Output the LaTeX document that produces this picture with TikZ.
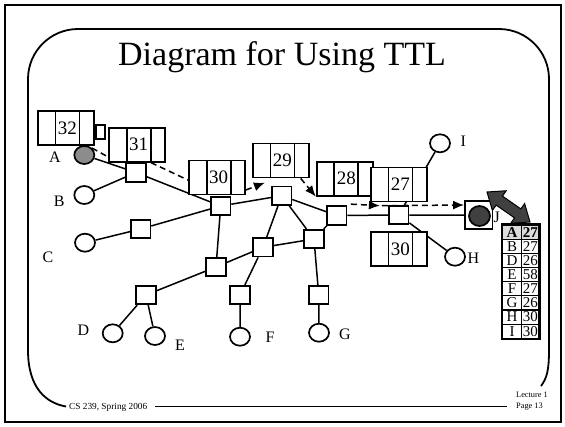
\documentclass[tikz,border=0pt]{standalone}
\usepackage{fontspec}
\setmainfont{Liberation Serif}
\usetikzlibrary{shapes.geometric,arrows.meta}
\pgfdeclarelayer{bg}
\pgfsetlayers{bg,main}

% packet drawn as a three-cell box: name, x, y, number
\newcommand\packetbox[4]{%
  \node[pktbox] (#1) at (#2,#3) {};
  \draw[pktline] ([xshift=18.5pt]#1.north west) -- ([xshift=18.5pt]#1.south west);
  \draw[pktline] ([xshift=42.5pt]#1.north west) -- ([xshift=42.5pt]#1.south west);
  \node[pktnum] (#1n) at ([xshift=30.5pt]#1.west) {#4};
}

\begin{document}
\begin{tikzpicture}[x=1pt,y=-1pt,
  wire/.style={line width=1.5},
  router/.style={draw,line width=1.7,fill=white,minimum width=19.5,minimum height=18.5,inner sep=0},
  host/.style={draw,line width=1.7,fill=white,ellipse,minimum width=20,minimum height=18,inner sep=0},
  lbl/.style={inner sep=0,font=\fontsize{16}{16}\selectfont},
  pktbox/.style={draw,line width=1.8,fill=white,minimum width=56,minimum height=34,inner sep=0},
  pktline/.style={line width=1.8},
  pktnum/.style={inner sep=0,font=\fontsize{19}{19}\selectfont},
  flow/.style={line width=1.5,dash pattern=on 6pt off 4pt},
  flowarrow/.style={flow,-{Latex[length=11pt,width=9pt]}},
  tcell/.style={draw,line width=1.2,fill=white,minimum height=14.16,inner sep=0,font=\fontsize{15}{15}\selectfont},
  toprow/.style={fill=black!14,font=\fontsize{15}{15}\selectfont\bfseries},
  plainrow/.style={},
  fatarrow/.style={fill=black!75,draw=black,line width=1,line join=miter},
  frameline/.style={line width=1.8},
  footfont/.style={inner sep=0,font=\fontsize{9.3}{9.3}\selectfont}
]
\useasboundingbox (0,0) rectangle (565,426);

% slide frame
\draw[line width=2] (5,5) rectangle (561,422);
\draw[frameline] (66,406.5) .. controls (46,403) and (28,388) .. (28,350);
\draw[frameline,rounded corners=50] (28,352) -- (28,29) -- (549,29) -- (549,352);
\draw[frameline] (549,350) .. controls (549,370) and (547,378) .. (541,386);
\node[footfont,anchor=west] (foot) at (69,407.5) {CS 239, Spring 2006};
\coordinate (footL) at (155,406.5);
\coordinate (footR) at (507,406.5);
\draw[frameline] (footL) -- (footR);
\node[inner sep=0,anchor=north west,align=left,font=\fontsize{8.3}{10.5}\selectfont] (page) at (516,392) {Lecture 1\\Page 13};

% title
\node[inner sep=0,font=\fontsize{34}{34}\selectfont] (title) at (282,57) {Diagram for Using TTL};

% routers
\node[router] (R1)  at (136,172.5) {};
\node[router] (R30) at (220.7,206) {};
\node[router] (RC)  at (140.7,229) {};
\node[router] (R29) at (281.7,195.7) {};
\node[router] (R28) at (336.7,215.5) {};
\node[router] (R27) at (398.7,215) {};
\node[router] (RML) at (216,267) {};
\node[router] (RM)  at (263,247.3) {};
\node[router] (RG1) at (314,239) {};
\node[router] (RDE) at (146,295) {};
\node[router] (RF)  at (240,295) {};
\node[router] (RG)  at (318.7,295) {};

% hosts
\node[host,fill=black!45] (A) at (84.3,155) {};
\node[host] (B) at (84.3,195) {};
\node[host] (C) at (85,242.7) {};
\node[host] (D) at (112.7,333.3) {};
\node[host] (E) at (155,336) {};
\node[host] (F) at (240,336.7) {};
\node[host] (G) at (319,332.7) {};
\node[host] (H) at (455,256.7) {};
\node[host] (I) at (440,143.3) {};
\node[draw,line width=1.8,fill=white,minimum size=27.5,inner sep=0] (Jbox) at (478.7,215) {};
\node[host,fill=black!75,minimum width=21,minimum height=20] (J) at (479.5,216) {};

% host labels
\node[lbl] (lA) at (55,157) {A};
\node[lbl] (lB) at (59.3,201.7) {B};
\node[lbl] (lC) at (48,257) {C};
\node[lbl] (lD) at (83.3,330.7) {D};
\node[lbl] (lE) at (180,345) {E};
\node[lbl] (lF) at (270,337.3) {F};
\node[lbl] (lG) at (345,334) {G};
\node[lbl] (lH) at (473.3,258.3) {H};
\node[lbl] (lI) at (463.3,141.7) {I};
\node[lbl,anchor=west] (lJ) at (493.5,217) {J};

% packets in flight
\packetbox{P32}{65.8}{127.8}{32}
\node[draw,line width=1.8,fill=white,minimum width=9,minimum height=14.3,inner sep=0,anchor=west] (tab32) at ([yshift=-4.4pt]P32.east) {};
\packetbox{P31}{137}{144.7}{31}
\packetbox{P30}{217}{177.5}{30}
\packetbox{P29}{280.8}{160.5}{29}
\packetbox{P28}{344.7}{178.7}{28}
\packetbox{P27}{398.8}{184.4}{27}
\packetbox{P30b}{398.8}{249.2}{30}

\begin{pgfonlayer}{bg}
  \draw[wire] (A) -- (R1) (B) -- (R1) (R1) -- (R30)
    (C) -- (RC) (RC) -- (R30) (R30) -- (R29) (R30) -- (RML)
    (R29) -- (R28) (R29) -- (RM) (R29) -- (RG1)
    (R28) -- (R27) (R28) -- (RG1)
    (R27) -- (Jbox) (R27) -- (H) (R27) -- (I)
    (RML) -- (RM) (RML) -- (RDE) (RM) -- (RG1) (RM) -- (RF)
    (RG1) -- (RG) (RDE) -- (D) (RDE) -- (E) (RF) -- (F) (RG) -- (G);
  % path of the packet
  \draw[flow] (A.north east) -- ([xshift=3pt,yshift=4pt]P31.south west);
  \draw[flow] ([xshift=-15pt]P31.south east) -- ([xshift=6pt,yshift=12.5pt]P30.south west);
  \draw[flowarrow] ([yshift=-12.5pt]P30.east) -- ([xshift=13pt,yshift=-4.3pt]P29.south west);
  \draw[flowarrow] ([xshift=-9pt]P29.south east) -- (P28.south west);
  \draw[flowarrow] ([xshift=3.5pt,yshift=1.25pt]R28.north east) -- ([xshift=10pt,yshift=-3.4pt]P27.south west);
  \draw[flowarrow] ([xshift=12pt,yshift=-3.4pt]P27.south west) -- ([yshift=10pt]Jbox.west);
\end{pgfonlayer}

% routing table
\foreach \k/\v/\s [count=\i] in {A/27/toprow,B/27/plainrow,D/26/plainrow,E/58/plainrow,
    F/27/plainrow,G/26/plainrow,H/30/plainrow,I/30/plainrow}{
  \node[tcell,\s,minimum width=19.4] (k\i) at (512,{225+(\i-0.5)*14.16}) {\k};
  \node[tcell,\s,minimum width=17.3] (v\i) at (530.35,{225+(\i-0.5)*14.16}) {\v};
}
\draw[line width=2] (k1.north west) rectangle (v8.south east);

% exchange between J and its table
\draw[fatarrow] (487,192) -- (506.2,190.75) -- (502.45,196.1) -- (520.85,208.9)
  -- (524.6,203.55) -- (530,222) -- (510.8,223.25) -- (514.55,217.9)
  -- (496.15,205.1) -- (492.4,210.45) -- cycle;
\end{tikzpicture}
\end{document}
